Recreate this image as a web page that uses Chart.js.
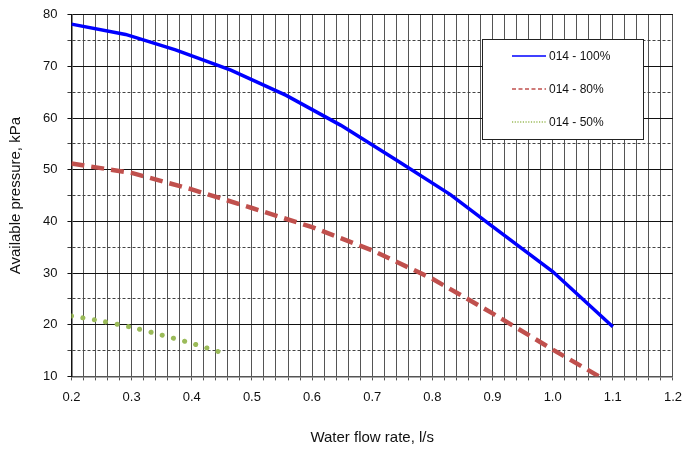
<!DOCTYPE html>
<html>
<head>
<meta charset="utf-8">
<script src="https://cdn.jsdelivr.net/npm/chart.js@4/dist/chart.umd.min.js"></script>
<style>
  html, body { margin: 0; padding: 0; background: #fff; overflow: hidden; }
  #wrap { width: 686px; height: 450px; position: relative; overflow: hidden; }
  #pressureChart { position: absolute; left: 0; top: -3px; }
</style>
</head>
<body>
<div id="wrap"><canvas id="pressureChart" width="691" height="453"></canvas></div>
<script>
// Dados
const flow100 = [0.2, 0.29, 0.373, 0.465, 0.557, 0.648, 0.74, 0.83, 0.897, 1.0, 1.1];
const press100 = [78.2, 76.2, 73.2, 69.3, 64.4, 58.6, 51.9, 45.2, 39.3, 30.3, 19.6];

const flow80 = [0.2, 0.3, 0.4, 0.5, 0.6, 0.7, 0.8, 0.9, 1.0, 1.08];
const press80 = [51.2, 49.4, 46.2, 42.6, 38.9, 34.4, 28.9, 22.2, 15.2, 9.8];

const flow50 = [0.2, 0.25, 0.3, 0.35, 0.4, 0.455];
const press50 = [21.7, 20.7, 19.5, 18.0, 16.4, 14.4];

const seriesLabels = ['014 - 100%', '014 - 80%', '014 - 50%'];

function toPoints(xs, ys) {
    return xs.map((x, i) => ({ x: x, y: ys[i] }));
}

// Legenda desenhada dentro da área do gráfico (coordenadas do canvas, deslocado 3px)
const boxLegend = {
    id: 'boxLegend',
    afterDraw(chart) {
        const c = chart.ctx;
        const left = 482, top = 42, w = 161, h = 100;
        c.save();
        c.fillStyle = '#fff';
        c.fillRect(left, top, w, h);
        c.strokeStyle = '#222';
        c.lineWidth = 1;
        c.strokeRect(left + 0.5, top + 0.5, w, h);
        chart.data.datasets.forEach((ds, i) => {
            const y = top + 17 + i * 33;
            c.beginPath();
            c.strokeStyle = ds.borderColor;
            c.lineWidth = 1.5;
            c.setLineDash(i === 0 ? [] : (i === 1 ? [4, 2.5] : [1.2, 1.5]));
            c.moveTo(512, y);
            c.lineTo(546, y);
            c.stroke();
            c.setLineDash([]);
            c.fillStyle = '#111';
            c.font = '12px "Liberation Sans", Arial, sans-serif';
            c.textBaseline = 'middle';
            c.fillText(ds.label, 549, y + 1);
        });
        c.restore();
    }
};

const isMajor = (v, step) => Math.abs(v / step - Math.round(v / step)) < 1e-6;

new Chart(document.getElementById('pressureChart'), {
    type: 'line',
    data: {
        datasets: [
            {
                label: seriesLabels[0],
                data: toPoints(flow100, press100),
                borderColor: '#0000ff',
                borderWidth: 3.5,
                pointRadius: 0,
                tension: 0
            },
            {
                label: seriesLabels[1],
                data: toPoints(flow80, press80),
                borderColor: '#c0504d',
                borderWidth: 4.5,
                borderDash: [13, 7],
                pointRadius: 0,
                tension: 0
            },
            {
                label: seriesLabels[2],
                data: toPoints(flow50, press50),
                borderColor: '#9bbb59',
                borderWidth: 5,
                borderDash: [0.1, 11.5],
                borderCapStyle: 'round',
                pointRadius: 0,
                tension: 0.3
            }
        ]
    },
    options: {
        responsive: false,
        animation: false,
        layout: { padding: { left: 7, right: 4, top: 6, bottom: 3 } },
        plugins: {
            legend: { display: false },
            tooltip: { enabled: false }
        },
        scales: {
            x: {
                type: 'linear',
                min: 0.2,
                max: 1.2,
                ticks: {
                    stepSize: 0.02,
                    autoSkip: false,
                    maxRotation: 0,
                    padding: 9,
                    color: '#111',
                    font: { family: '"Liberation Sans", Arial, sans-serif', size: 13 },
                    callback: v => isMajor(v, 0.1) ? v.toFixed(1) : ''
                },
                grid: {
                    color: '#555',
                    lineWidth: 1,
                    tickLength: 4
                },
                border: { color: '#555', width: 1.5 },
                title: {
                    display: true,
                    text: 'Water flow rate, l/s',
                    color: '#111',
                    font: { family: '"Liberation Sans", Arial, sans-serif', size: 15 },
                    padding: { top: 15, bottom: 0 }
                }
            },
            y: {
                min: 10,
                max: 80,
                ticks: {
                    stepSize: 5,
                    padding: 10,
                    color: '#111',
                    font: { family: '"Liberation Sans", Arial, sans-serif', size: 13 },
                    callback: v => isMajor(v, 10) ? v : ''
                },
                grid: {
                    color: ctx => (ctx.tick && isMajor(ctx.tick.value, 10)) ? '#111' : '#444',
                    lineWidth: 1,
                    tickLength: 4
                },
                border: {
                    color: '#111',
                    width: 1.5,
                    dash: ctx => (ctx.tick && !isMajor(ctx.tick.value, 10)) ? [3, 2] : []
                },
                title: {
                    display: true,
                    text: 'Available pressure, kPa',
                    color: '#111',
                    font: { family: '"Liberation Sans", Arial, sans-serif', size: 15 },
                    padding: { top: 0, bottom: 8 }
                }
            }
        }
    },
    plugins: [boxLegend]
});
</script>
</body>
</html>
